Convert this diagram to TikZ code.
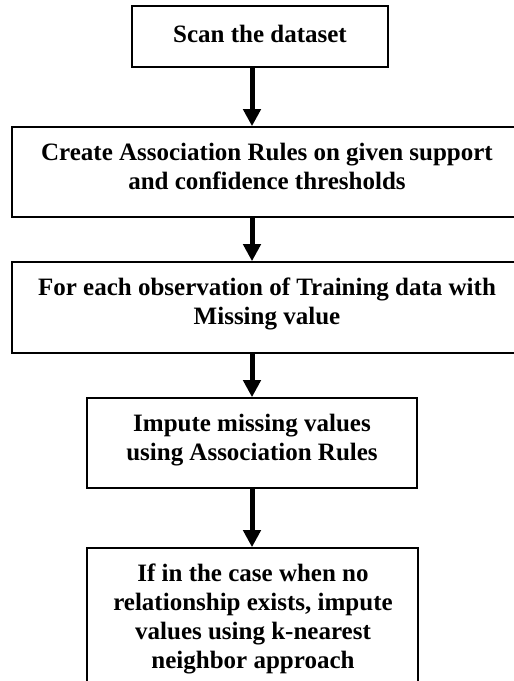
\documentclass[tikz,border=0pt]{standalone}
\usepackage{fontspec}
\setmainfont{Liberation Serif}
\usetikzlibrary{arrows.meta}
\tikzset{
  box/.style={draw=black, line width=1.6pt, fill=none, rectangle, inner sep=0pt},
  label/.style={font=\fontsize{25}{29}\selectfont\bfseries, align=center, inner sep=0pt, text=black},
  arr/.style={line width=5pt, -{Triangle[width=17pt,length=17pt]}}
}
\begin{document}
\begin{tikzpicture}[x=1pt,y=1pt]
\useasboundingbox (0,0) rectangle (514,-681);
\clip (0,0) rectangle (514,-681);
\fill[white] (0,0) rectangle (514,-681);
% boxes
\node[box, minimum width=256pt, minimum height=61pt] (b1) at (260,-36.5) {};
\node[box, minimum width=510pt, minimum height=90pt] (b2) at (267,-172) {};
\node[box, minimum width=510pt, minimum height=91pt] (b3) at (267,-307.5) {};
\node[box, minimum width=330pt, minimum height=90pt] (b4) at (252,-443) {};
\node[box, minimum width=331pt, minimum height=172pt] (b5) at (252.5,-634) {};
% texts
\node[label] (t1) at (260,-36.2) {\strut Scan the dataset\strut};
\node[label] (t2) at (267,-168.7) {\strut Create Association Rules on given support\\and confidence thresholds\strut};
\node[label] (t3) at (267,-304.2) {\strut For each observation of Training data with\\Missing value\strut};
\node[label] (t4) at (252,-440.2) {\strut Impute missing values\\using Association Rules\strut};
\node[label] (t5) at (253,-619.2) {\strut If in the case when no\\relationship exists, impute\\values using k-nearest\\neighbor approach\strut};
% arrows
\draw[arr] (b1.south -| b4.center) -- (b2.north -| b4.center);
\draw[arr] (b2.south -| b4.center) -- (b3.north -| b4.center);
\draw[arr] (b3.south -| b4.center) -- (b4.north);
\draw[arr] (b4.south) -- (b5.north -| b4.center);
\end{tikzpicture}
\end{document}
